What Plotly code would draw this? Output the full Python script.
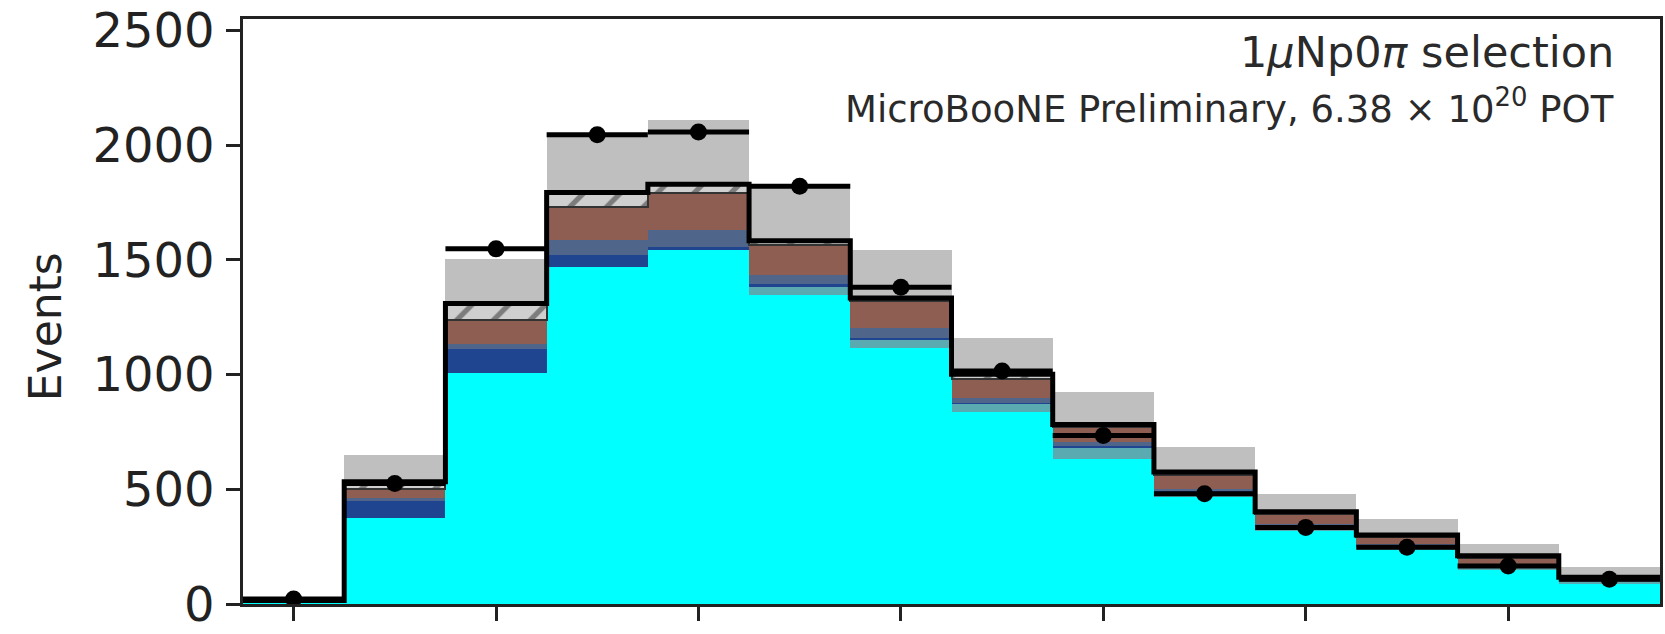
import numpy as np
import plotly.graph_objects as go

# Bin index (bin centres) and edges of the 14-bin histogram
bin_centers = list(range(14))
bin_edges = [i - 0.5 for i in range(15)]
tick_positions = [0, 2, 4, 6, 8, 10, 12]
y_ticks = [0, 500, 1000, 1500, 2000, 2500]

# Stacked MC contributions per bin (events), bottom to top
signal = [10, 373, 1009, 1471, 1544, 1349, 1117, 835, 633, 467, 317, 236, 149, 91]
teal_bkg = [0, 0, 0, 0, 0, 36, 36, 37, 51, 20, 20, 15, 12, 8]
darkblue_bkg = [2, 79, 101, 51, 12, 8, 8, 6, 5, 4, 3, 3, 2, 1]
slate_bkg = [1, 8, 22, 65, 74, 42, 43, 22, 16, 12, 9, 7, 8, 3]
brown_bkg = [1, 43, 108, 145, 160, 130, 116, 80, 65, 58, 45, 32, 30, 10]
hatched_bkg = [1, 30, 70, 62, 40, 18, 14, 22, 12, 14, 8, 8, 9, 4]

# Systematic uncertainty on the MC total
mc_sigma = [10, 115, 195, 241, 278, 247, 210, 159, 140, 109, 79, 68, 52, 43]

# Observed data counts
data_counts = [22, 525, 1548, 2045, 2057, 1821, 1381, 1016, 734, 481, 334, 247, 166, 108]

components = [
    ("signal", signal, "#00ffff", None),
    ("teal", teal_bkg, "#5aaab2", None),
    ("darkblue", darkblue_bkg, "#1f4590", None),
    ("slate", slate_bkg, "#4f6589", None),
    ("brown", brown_bkg, "#8f5e53", None),
    ("hatched", hatched_bkg, "#cfcfcf", "/"),
]

mc_total = np.sum([np.array(c[1], dtype=float) for c in components], axis=0)
sigma = np.array(mc_sigma, dtype=float)

fig = go.Figure()

# Uncertainty band around MC total (drawn first so the stack covers its lower half)
fig.add_trace(go.Bar(
    x=bin_centers, y=2 * sigma, base=mc_total - sigma, width=1.0,
    marker=dict(color="#bfbfbf", line=dict(width=0)),
    showlegend=False, hoverinfo="skip",
))

# Stacked MC components
cum = np.zeros(len(bin_centers))
for name, vals, color, hatch in components:
    vals = np.array(vals, dtype=float)
    marker = dict(color=color, line=dict(width=0))
    if hatch:
        marker["pattern"] = dict(shape=hatch, fgcolor="#2a2a2a", size=26,
                                 solidity=0.2, fillmode="overlay")
        marker["line"] = dict(width=2, color="#333333")
    fig.add_trace(go.Bar(
        x=bin_centers, y=vals, base=cum.copy(), width=1.0,
        marker=marker, name=name, showlegend=False, hoverinfo="skip",
    ))
    cum += vals

# MC total as a step outline
fig.add_trace(go.Scatter(
    x=bin_edges, y=list(mc_total) + [mc_total[-1]],
    mode="lines", line=dict(color="black", width=5, shape="hv"),
    showlegend=False, hoverinfo="skip",
))

# Data points with bin-width horizontal bars
fig.add_trace(go.Scatter(
    x=bin_centers, y=data_counts, mode="markers",
    marker=dict(color="black", size=17),
    error_x=dict(type="constant", value=0.5, thickness=5, width=0, color="black"),
    showlegend=False, hoverinfo="skip",
))

font_family = "DejaVu Sans"

fig.update_layout(
    width=1665, height=634,
    margin=dict(l=243, r=2, t=18, b=28),
    paper_bgcolor="white", plot_bgcolor="white",
    barmode="overlay", bargap=0,
    font=dict(family=font_family, color="#222222", size=46),
    xaxis=dict(
        range=[-0.5, 13.5], tickvals=tick_positions, showticklabels=False,
        ticks="outside", ticklen=14, tickwidth=2.5, tickcolor="#222222",
        showline=True, linecolor="#222222", linewidth=2.5, mirror=True,
        showgrid=False, zeroline=False,
    ),
    yaxis=dict(
        range=[0, 2550], tickvals=y_ticks, ticktext=[str(v) for v in y_ticks],
        ticks="outside", ticklen=14, tickwidth=2.5, tickcolor="#222222",
        ticklabelstandoff=2,
        tickfont=dict(size=48, family=font_family, color="#222222"),
        showline=True, linecolor="#222222", linewidth=2.5, mirror=True,
        showgrid=False, zeroline=False,
    ),
    annotations=[
        dict(text="Events", textangle=-90, xref="paper", yref="paper",
             x=-0.1394, y=0.474, xanchor="center", yanchor="middle",
             showarrow=False, font=dict(size=44, family=font_family, color="#222222")),
        dict(text="1<i>μ</i>Np0<i>π</i> selection", xref="paper", yref="paper",
             x=0.969, y=0.944, xanchor="right", yanchor="middle",
             showarrow=False, font=dict(size=43, family=font_family, color="#2a2a2a")),
        dict(text="MicroBooNE Preliminary, 6.38 × 10<sup>20</sup> POT",
             xref="paper", yref="paper",
             x=0.969, y=0.85, xanchor="right", yanchor="middle",
             showarrow=False, font=dict(size=37, family=font_family, color="#2a2a2a")),
    ],
)

fig.write_html("out.html")
